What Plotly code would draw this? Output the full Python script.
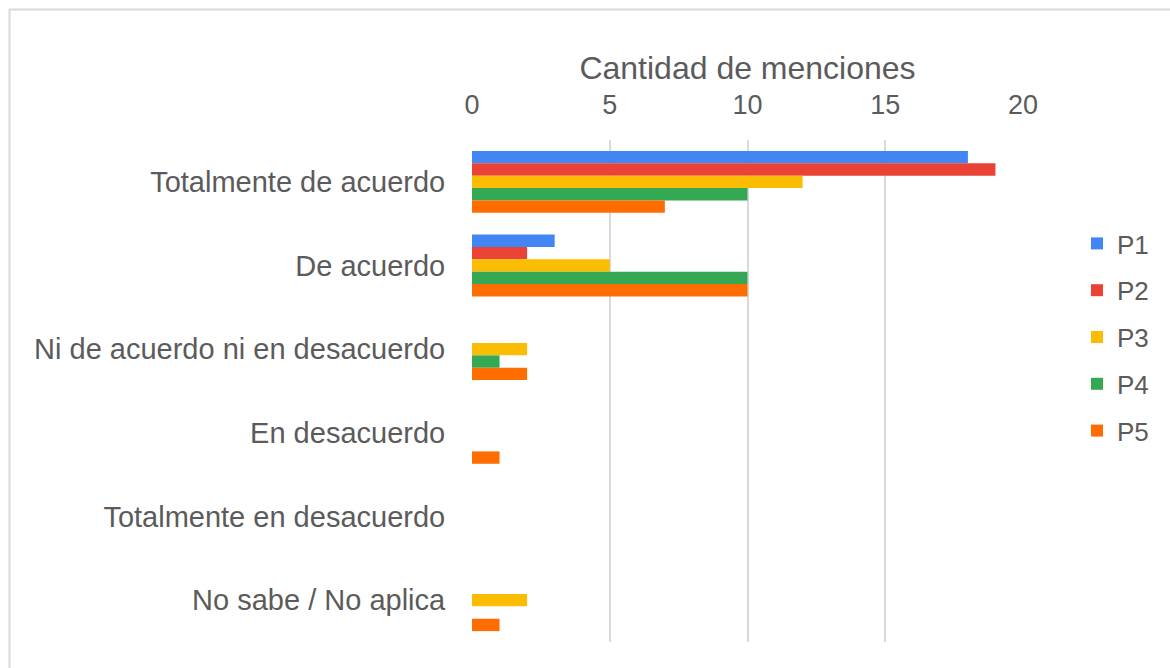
import plotly.graph_objects as go

categories = ["Totalmente de acuerdo", "De acuerdo", "Ni de acuerdo ni en desacuerdo",
              "En desacuerdo", "Totalmente en desacuerdo", "No sabe / No aplica"]
series_names = ["P1", "P2", "P3", "P4", "P5"]
p1 = [18, 3, 0, 0, 0, 0]
p2 = [19, 2, 0, 0, 0, 0]
p3 = [12, 5, 2, 0, 0, 2]
p4 = [10, 10, 1, 0, 0, 0]
p5 = [7, 10, 2, 1, 0, 1]
colors = ["#4285F4", "#EA4335", "#FBBC04", "#34A853", "#FF6D01"]
x_ticks = [0, 5, 10, 15, 20]
axis_title = "Cantidad de menciones"

W, H = 1170, 668
L, R, T, B = 472, 1023, 140, 642

fig = go.Figure()
for name, vals, col in zip(series_names, [p1, p2, p3, p4, p5], colors):
    fig.add_trace(go.Bar(y=categories, x=vals, name=name, orientation="h",
                         marker=dict(color=col, line=dict(width=0)),
                         legendgroup=name))

TXT = "#5b5b5b"
FONT = "Liberation Sans, Arial, sans-serif"

def px_to_paper_x(px):
    return (px - L) / (R - L)

def px_to_paper_y(py):
    return (B - py) / (B - T)

fig.update_layout(
    width=W, height=H,
    margin=dict(l=L, r=W - R, t=T, b=H - B, autoexpand=False),
    paper_bgcolor="white", plot_bgcolor="white",
    barmode="group", bargap=0.26, bargroupgap=0,
    font=dict(family=FONT, color=TXT),
    showlegend=True,
    legend=dict(x=px_to_paper_x(1077), y=px_to_paper_y(220), xanchor="left", yanchor="top",
                font=dict(size=26, color=TXT, family=FONT), tracegroupgap=10,
                bgcolor="rgba(0,0,0,0)", itemwidth=30),
    xaxis=dict(side="top", range=[0, 20], tickvals=x_ticks, showgrid=True,
               gridcolor="#d9d9d9", gridwidth=2, zeroline=False, showline=False,
               tickfont=dict(size=27, color=TXT, family=FONT),
               ticks="outside", ticklen=14, tickcolor="rgba(0,0,0,0)",
               title=dict(text=axis_title, font=dict(size=32, color=TXT, family=FONT), standoff=1),
               fixedrange=True),
    yaxis=dict(autorange="reversed", type="category", showgrid=False, zeroline=False,
               showline=False, tickfont=dict(size=29, color=TXT, family=FONT),
               ticks="outside", ticklen=20, tickcolor="rgba(0,0,0,0)", fixedrange=True),
    shapes=[
        dict(type="line", xref="paper", yref="paper",
             x0=px_to_paper_x(9.5), x1=px_to_paper_x(9.5),
             y0=px_to_paper_y(9), y1=px_to_paper_y(700),
             line=dict(color="#d9d9d9", width=2)),
        dict(type="line", xref="paper", yref="paper",
             x0=px_to_paper_x(9), x1=px_to_paper_x(1200),
             y0=px_to_paper_y(9.5), y1=px_to_paper_y(9.5),
             line=dict(color="#d9d9d9", width=2)),
    ],
)

fig.write_html("out.html", config={"displayModeBar": False},
               post_script="document.body.style.margin='0';")
